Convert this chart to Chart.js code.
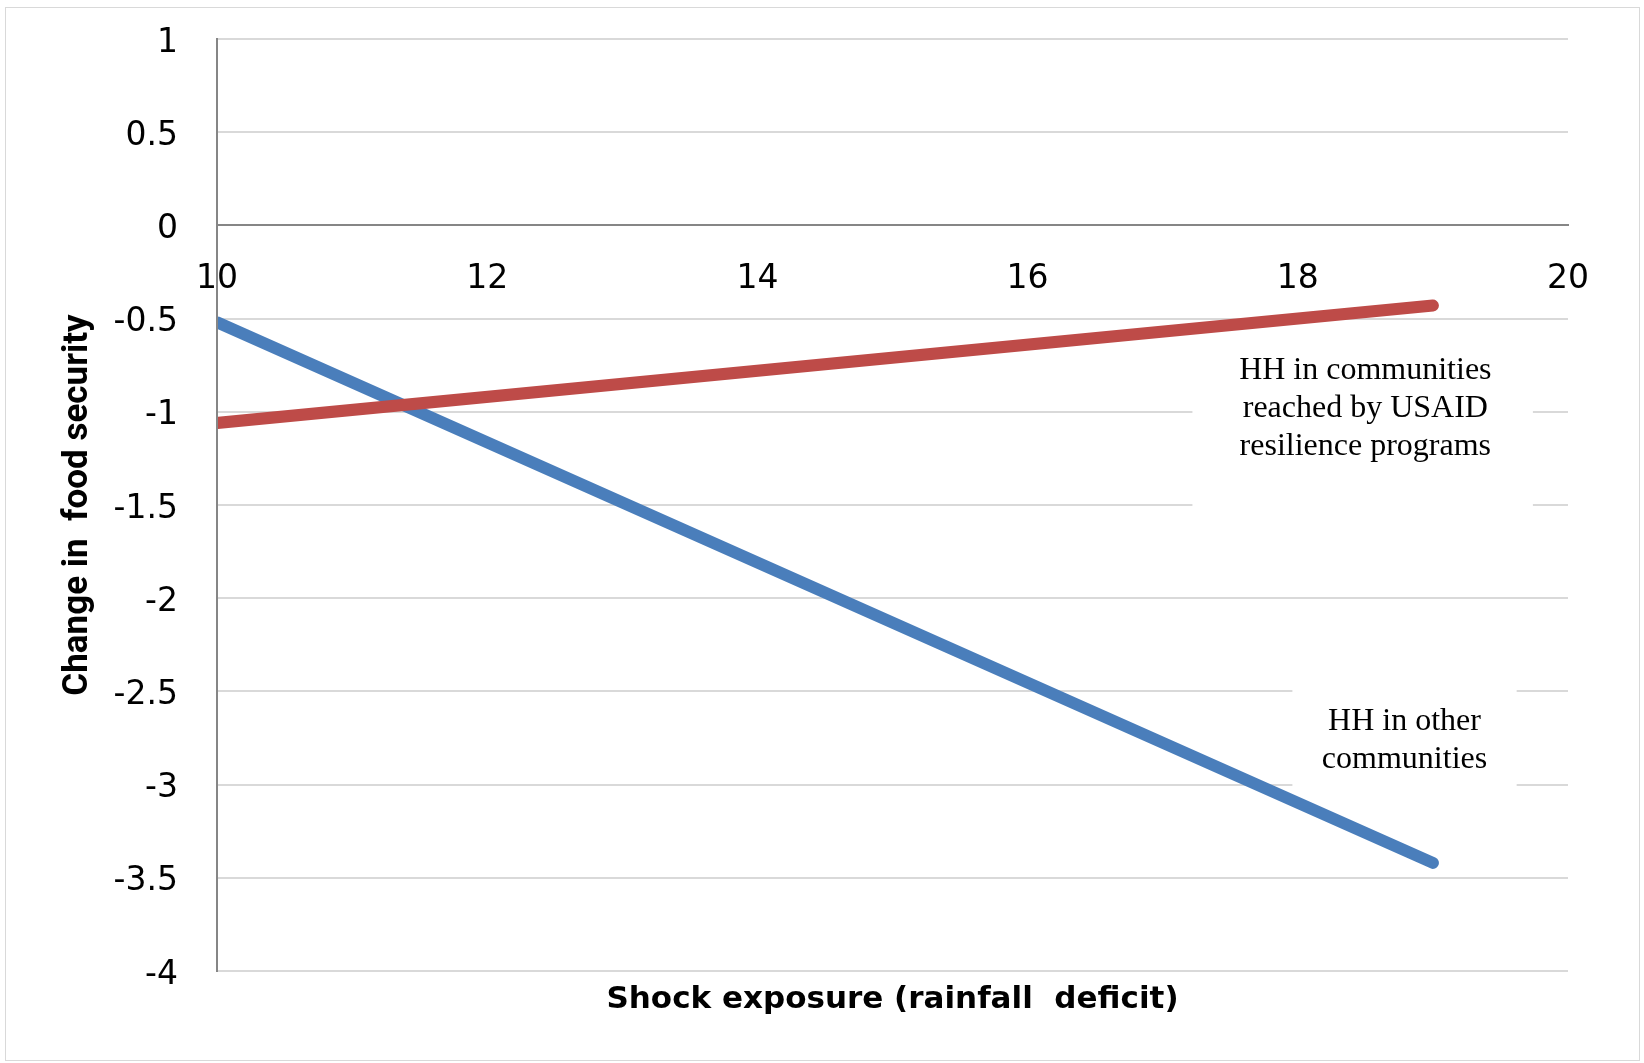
<!DOCTYPE html>
<html><head><meta charset="utf-8">
<script src="https://cdn.jsdelivr.net/npm/chart.js@4"></script>
<style>
html,body{margin:0;padding:0;background:#fff;}
#wrap{position:relative;width:1644px;height:1063px;}
#frame{position:absolute;left:5px;top:7px;width:1633px;height:1052px;border:1.5px solid #d9d9d9;pointer-events:none;}
</style></head><body>
<div id="wrap"><canvas id="c"></canvas><div id="frame"></div></div>
<script>
// ---- data ----
const xValues = [10, 19];
const usaidValues = [-1.06, -0.43];   // HH in communities reached by USAID resilience programs
const otherValues = [-0.52, -3.42];   // HH in other communities
const xTickValues = [10, 12, 14, 16, 18, 20];
const yTickValues = [-4, -3.5, -3, -2.5, -2, -1.5, -1, -0.5, 0, 0.5, 1];
const usaidLabel = ['HH in communities', 'reached by USAID', 'resilience programs'];
const otherLabel = ['HH in other', 'communities'];
const xTitle = 'Shock exposure (rainfall  deficit)';
const yTitle = 'Change in  food security';

const toPoints = (xs, ys) => xs.map((x, i) => ({ x, y: ys[i] }));

const calloutPlugin = {
  id: 'callouts',
  beforeDatasetsDraw(chart, args, opts) {
    const { ctx } = chart;
    const sx = chart.scales.x, sy = chart.scales.y;
    opts.items.forEach(it => {
      const x0 = sx.getPixelForValue(it.box[0]), x1 = sx.getPixelForValue(it.box[1]);
      const y0 = sy.getPixelForValue(it.box[2]), y1 = sy.getPixelForValue(it.box[3]);
      ctx.save();
      ctx.fillStyle = '#ffffff';
      ctx.fillRect(x0, y0, x1 - x0, y1 - y0);
      ctx.fillStyle = '#000000';
      ctx.font = '32px "Liberation Serif", "Times New Roman", serif';
      ctx.textAlign = 'center';
      ctx.textBaseline = 'middle';
      it.lines.forEach((t, i) => ctx.fillText(t, sx.getPixelForValue(it.cx), sy.getPixelForValue(it.ys[i])));
      ctx.restore();
    });
  }
};

const tickFont = { family: 'DejaVu Sans', size: 33 };

new Chart(document.getElementById('c'), {
  type: 'scatter',
  data: {
    datasets: [
      { label: 'USAID', data: toPoints(xValues, usaidValues), showLine: true,
        borderColor: '#BE4B48', borderWidth: 12, borderCapStyle: 'round', pointRadius: 0,
        clip: { left: -1, top: false, right: false, bottom: false } },
      { label: 'Other', data: toPoints(xValues, otherValues), showLine: true,
        borderColor: '#4A7EBB', borderWidth: 12, borderCapStyle: 'round', pointRadius: 0,
        clip: { left: -1, top: false, right: false, bottom: false } }
    ]
  },
  options: {
    responsive: true, maintainAspectRatio: false, animation: false, devicePixelRatio: 1,
    layout: { padding: { left: 0, top: 39, right: 76, bottom: 0 } },
    plugins: {
      legend: { display: false }, tooltip: { enabled: false },
      callouts: { items: [
        { lines: usaidLabel, cx: 18.5, ys: [-0.778, -0.981, -1.184], box: [17.22, 19.74, -0.6, -1.55] },
        { lines: otherLabel, cx: 18.79, ys: [-2.662, -2.866], box: [17.96, 19.62, -2.42, -3.1] }
      ] }
    },
    scales: {
      x: {
        type: 'linear', min: 10, max: 20, position: { y: 0 },
        grid: { display: false, drawTicks: false },
        border: { display: true, color: '#868686', width: 2 },
        ticks: { font: tickFont, color: '#000', padding: 34, maxRotation: 0, autoSkip: false, callback: v => String(v) },
        afterBuildTicks: s => { s.ticks = xTickValues.map(v => ({ value: v })); }
      },
      x2: {
        type: 'linear', min: 10, max: 20, position: 'bottom',
        grid: { display: false, drawTicks: false }, border: { display: false },
        ticks: { display: false },
        title: { display: true, text: xTitle, font: { family: 'DejaVu Sans', size: 31, weight: 'bold' }, color: '#000', padding: { top: 0, bottom: 44 } },
        afterFit: s => { s.height = 92; }
      },
      y: {
        type: 'linear', min: -4, max: 1, position: 'left',
        grid: { color: c => (c.tick && c.tick.value === 0) ? '#868686' : '#d9d9d9', lineWidth: 2, drawTicks: false },
        border: { display: true, color: '#868686', width: 2 },
        ticks: { font: tickFont, color: '#000', padding: 39, labelOffset: 4, callback: v => String(v) },
        afterBuildTicks: s => { s.ticks = yTickValues.map(v => ({ value: v })); },
        title: { display: true, text: yTitle, font: { family: 'Roboto', size: 35, weight: 'bold' }, color: '#000', padding: { top: 57, bottom: 0 } },
        afterFit: s => { s.width = 217; s.paddingTop = 0; s.paddingBottom = 0; }
      }
    }
  },
  plugins: [calloutPlugin]
});
</script>
</body></html>
